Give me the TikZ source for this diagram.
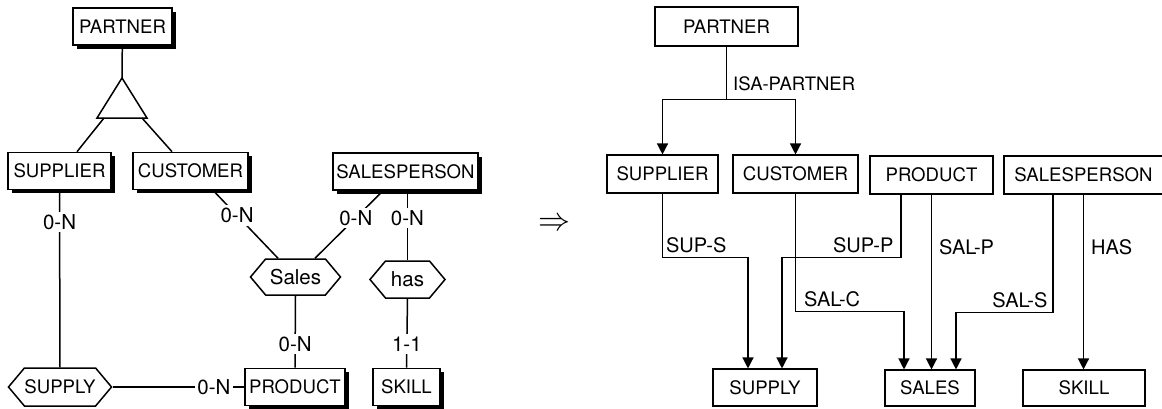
\documentclass[tikz,border=0pt]{standalone}
\usepackage{fontspec}
\setmainfont{TeX Gyre Heros}
\usetikzlibrary{positioning, shapes.symbols, shadows, arrows.meta}

\begin{document}
\begin{tikzpicture}[
    x = 1pt, y = -1pt,
    every node/.style = { inner sep = 0pt },
    ent/.style = { draw, fill = white, line width = 1.6pt, minimum height = 37pt,
                   font = \fontsize{18.6}{20}\selectfont,
                   drop shadow={shadow xshift=3.5pt,shadow yshift=-3.5pt,fill=black,opacity=1} },
    rel/.style = { draw, fill = white, line width = 1.5pt, signal, signal to = west and east,
                   signal pointer angle = 100, minimum height = 37pt,
                   font = \fontsize{20.5}{22}\selectfont }
]
    \tikzstyle{card} = [fill = white, inner sep = 2.5pt, font = \fontsize{20.5}{22}\selectfont];
    \tikzstyle{er} = [line width = 1.5pt];
    \tikzstyle{tbl} = [draw, line width = 1.1pt, minimum height = 38pt, font = \fontsize{18.6}{20}\selectfont];
    \tikzstyle{fk} = [line width = 1.3pt, -{Triangle[length = 11pt, width = 11pt]}];
    \tikzstyle{fklabel} = [font = \fontsize{20}{22}\selectfont];

    \useasboundingbox (0, 0) rectangle (1162, 408);

    % conceptual schema
    \node[ent, minimum width = 99pt] (partnerL) at (122.5, 26.5) {PARTNER};
    \node[ent, minimum width = 103pt] (supplierL) at (59.5, 171) {SUPPLIER};
    \node[ent, minimum width = 115pt] (customerL) at (190.5, 171) {CUSTOMER};
    \node[ent, minimum width = 145pt] (salespersonL) at (405.5, 171.5) {SALESPERSON};
    \node[ent, minimum width = 100pt] (productL) at (295, 387) {PRODUCT};
    \node[ent, minimum width = 67pt] (skillL) at (406.5, 387) {SKILL};

    \node[rel, minimum width = 100pt, minimum height = 38pt, font = \fontsize{18.6}{20}\selectfont] (supplyL) at (60, 387) {SUPPLY};
    \node[rel, minimum width = 90pt, minimum height = 36pt] (salesL) at (295.5, 277) {Sales};
    \node[rel, minimum width = 75pt] (hasL) at (407.5, 279.5) {has};

    \coordinate (isaTop) at (122, 78);
    \coordinate (isaLeft) at (97, 118);
    \coordinate (isaRight) at (147, 118);
    \coordinate (isaL) at (104, 118);
    \coordinate (isaR) at (142, 118);
    \draw[er] (isaTop) -- (isaLeft) -- (isaRight) -- cycle;
    \draw[er] (partnerL) -- (isaTop);
    \draw[er] (isaL) -- ([xshift = 17.5pt]supplierL.north);
    \draw[er] (isaR) -- ([xshift = -18.5pt]customerL.north);

    \draw[er] (supplierL.south) -- node[card, pos = 0.18] {0-N} (supplyL.north);
    \draw[er] (supplyL.east) -- node[card, pos = 0.77] {0-N} (productL.west);
    \draw[er] ([xshift = 22.5pt]customerL.south) -- node[card, pos = 0.37] {0-N} ([xshift = -17.5pt]salesL.north);
    \draw[er] ([xshift = -22.5pt]salespersonL.south) -- node[card, pos = 0.4] {0-N} ([xshift = 19.5pt]salesL.north);
    \draw[er] ([xshift = 2pt]salespersonL.south) -- node[card, pos = 0.39] {0-N} (hasL.north);
    \draw[er] (salesL.south) -- node[card, pos = 0.67] {0-N} (productL.north);
    \draw[er] (hasL.south) -- node[card, pos = 0.66] {1-1} (skillL.north);

    \node[xscale = 3.2, yscale = 3.3] (implies) at (554, 224.5) {$\Rightarrow$};

    % relational schema
    \node[tbl, minimum width = 143pt, minimum height = 39pt] (partnerR) at (726.5, 26.5) {PARTNER};
    \node[tbl, minimum width = 111pt] (supplierR) at (662.5, 174) {SUPPLIER};
    \node[tbl, minimum width = 125pt] (customerR) at (795.5, 174) {CUSTOMER};
    \node[tbl, minimum width = 123pt] (productR) at (931.5, 175) {PRODUCT};
    \node[tbl, minimum width = 159pt] (salespersonR) at (1083.5, 175) {SALESPERSON};
    \node[tbl, minimum width = 104pt, minimum height = 37pt] (supplyR) at (765, 387.5) {SUPPLY};
    \node[tbl, minimum width = 90pt, minimum height = 36pt] (salesR) at (930, 388) {SALES};
    \node[tbl, minimum width = 122pt, minimum height = 36pt] (skillR) at (1084, 388) {SKILL};

    \draw[line width = 1.3pt] (partnerR.south) -- node[fklabel, font = \fontsize{18.5}{20}\selectfont, right = 6pt, pos = 0.71] {ISA-PARTNER} ++(0, 53) coordinate (isaSplit);
    \draw[fk] (isaSplit) -| (supplierR.north);
    \draw[fk] (isaSplit) -| (customerR.north);

    \draw[fk] (supplierR.south) -- ++(0, 64) node[fklabel, above right = 4pt and 3pt] {SUP-S} -| ([xshift = -17pt]supplyR.north);
    \draw[fk] ([xshift = -30.5pt]productR.south) -- ++(0, 63) node[fklabel, above left = 4pt and 7pt] {SUP-P} -| ([xshift = 17pt]supplyR.north);
    \draw[fk] (customerR.south) -- ++(0, 118) node[fklabel, above right = 4pt and 8pt] {SAL-C} -| ([xshift = -26pt]salesR.north);
    \draw[fk] (productR.south) -- node[fklabel, right = 7pt, pos = 0.3] {SAL-P} (productR.south |- salesR.north);
    \draw[fk] ([xshift = -30.5pt]salespersonR.south) -- ++(0, 118) node[fklabel, above left = 4pt and 5pt] {SAL-S} -| ([xshift = 26pt]salesR.north);
    \draw[fk] (salespersonR.south) -- node[fklabel, right = 7pt, pos = 0.3] {HAS} (salespersonR.south |- skillR.north);
\end{tikzpicture}
\end{document}
